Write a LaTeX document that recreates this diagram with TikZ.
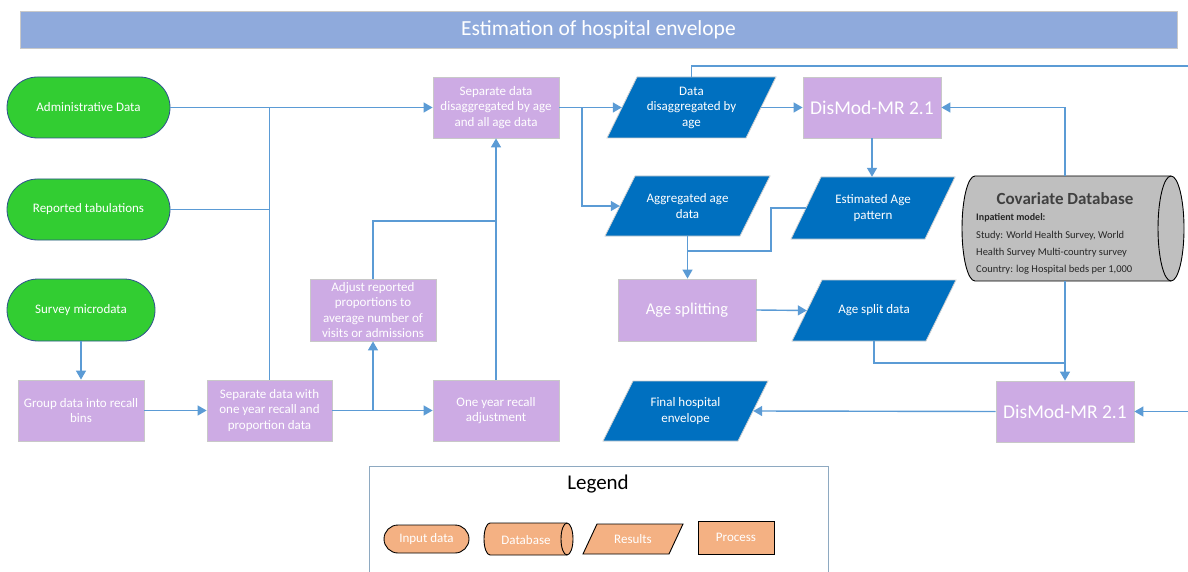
\documentclass[tikz,border=0pt]{standalone}
\usepackage{fontspec}
\setmainfont{Carlito}
\usetikzlibrary{shapes.geometric,shapes.misc,arrows.meta,calc}

\definecolor{titlefill}{HTML}{8FAADC}
\definecolor{titleedge}{HTML}{C9C9C9}
\definecolor{inputfill}{HTML}{32CD32}
\definecolor{inputedge}{HTML}{2F528F}
\definecolor{procfill}{HTML}{CDABE4}
\definecolor{procedge}{HTML}{C8C8C8}
\definecolor{resfill}{HTML}{0070C0}
\definecolor{resedge}{HTML}{D0D0D0}
\definecolor{dbfill}{HTML}{BFBFBF}
\definecolor{lineblue}{HTML}{5B9BD5}
\definecolor{legfill}{HTML}{F4B183}
\definecolor{legedge}{HTML}{8EA9C1}
\definecolor{dbtitle}{HTML}{404040}

\tikzset{
  flow/.style={draw=lineblue, line width=1.4pt},
  arr/.style={flow, -{Triangle[length=9pt,width=10pt]}},
  inputbox/.style={rounded rectangle, fill=inputfill, draw=inputedge, line width=0.8pt,
    text=white, align=center, inner sep=0pt},
  procbox/.style={rectangle, fill=procfill, draw=procedge, line width=0.8pt,
    text=white, align=center, inner sep=0pt},
  resultshape/.style={fill=resfill, draw=resedge, line width=0.8pt},
  legshape/.style={fill=legfill, draw=black, line width=0.9pt},
  paratext/.style={rectangle, text=white, align=center, inner sep=0pt},
  legitem/.style={fill=legfill, draw=black, line width=0.9pt, text=white,
    align=center, inner sep=0pt},
  dbline/.style={text=black!85, anchor=west, inner sep=0pt,
    font=\fontsize{10.5}{12}\selectfont},
}

% slanted data box: style, name, centre, width at mid-height, height, half slant, text
\newcommand\parabox[7]{%
  \path[#1, shift={(#3)}]
    (-#4/2-#6, #5/2) -- (#4/2-#6, #5/2) -- (#4/2+#6, -#5/2) -- (-#4/2+#6, -#5/2) -- cycle;
  \node[paratext, minimum width=#4, minimum height=#5] (#2) at (#3) {#7};
}

\begin{document}
\begin{tikzpicture}[x=1pt, y=-1pt, font=\fontsize{13}{15.5}\selectfont]
\useasboundingbox (0,0) rectangle (1188,572);
\clip (0,0) rectangle (1188,572);

% title bar
\node[rectangle, fill=titlefill, draw=titleedge, line width=0.8pt, minimum width=1157,
  minimum height=37, inner sep=0pt, text=white, font=\fontsize{21.5}{25}\selectfont]
  (title) at (598.5,29.5) {Estimation of hospital envelope};

% input data
\node[inputbox, minimum width=163, minimum height=61] (admin) at (88.5,107.5) {Administrative Data};
\node[inputbox, minimum width=163, minimum height=61] (reported) at (88.5,209.5) {Reported tabulations};
\node[inputbox, minimum width=148, minimum height=62] (survey) at (81,310) {Survey microdata};

% processing steps
\node[procbox, minimum width=126, minimum height=61] (group) at (81,410.5) {Group data into recall\\bins};
\node[procbox, minimum width=125, minimum height=61] (sep1yr) at (269.5,410.5) {Separate data with\\one year recall and\\proportion data};
\node[procbox, minimum width=126, minimum height=62] (adjust) at (373,310) {Adjust reported\\proportions to\\average number of\\visits or admissions};
\node[procbox, minimum width=126, minimum height=61] (oneyr) at (496,410.5) {One year recall\\adjustment};
\node[procbox, minimum width=126, minimum height=61] (sepdis) at (496,107.5) {Separate data\\disaggregated by age\\and all age data};
\node[procbox, minimum width=138, minimum height=62, font=\fontsize{16.5}{19}\selectfont] (agesplit) at (687,310) {Age splitting};
\node[procbox, minimum width=138, minimum height=61, font=\fontsize{19.5}{22}\selectfont] (dismod1) at (872,107.5) {DisMod-MR 2.1};
\node[procbox, minimum width=138, minimum height=61, font=\fontsize{19.5}{22}\selectfont] (dismod2) at (1065,411.5) {DisMod-MR 2.1};

% results
\parabox{resultshape}{datadis}{691.5,107.5}{139}{61}{15}{Data\\disaggregated by\\age}
\parabox{resultshape}{aggr}{687.5,206}{135}{60}{15}{Aggregated age\\data}
\parabox{resultshape}{estage}{873,208}{134}{62}{15}{Estimated Age\\pattern}
\parabox{resultshape}{agesplitdata}{874,310.5}{134}{61}{15}{Age split data}
\parabox{resultshape}{final}{685.5,411}{135}{60}{15}{Final hospital\\envelope}

% covariate database (horizontal cylinder)
\node[rectangle, minimum width=223, minimum height=105, inner sep=0pt] (covdb) at (1073.5,228.5) {};
\path[fill=dbfill, draw=black, line width=0.9pt]
  (975,176) -- (1171,176) arc[start angle=-90, end angle=90, x radius=13, y radius=52.5]
  -- (975,281) arc[start angle=90, end angle=270, x radius=13, y radius=52.5] -- cycle;
\draw[black, line width=0.9pt] (1171,176) arc[start angle=-90, end angle=-270, x radius=13, y radius=52.5];
\node[text=dbtitle, font=\bfseries\fontsize{17}{20}\selectfont, inner sep=0pt] (dbname) at (1065,199) {Covariate Database};
\node[dbline, font=\bfseries\fontsize{10}{12}\selectfont] (dbmodel) at (976,218) {Inpatient model:};
\node[dbline] (dbstudy) at (976,236) {Study: World Health Survey, World};
\node[dbline] (dbstudy2) at (976,253) {Health Survey Multi-country survey};
\node[dbline] (dbcountry) at (976,269.5) {Country: log Hospital beds per 1,000};

% connectors
\draw[arr] (admin.east) -- (sepdis.west);
\draw[flow] (reported.east) -- (reported.east -| sep1yr.north);
\draw[flow] (sep1yr.north) -- (sep1yr.north |- admin.east);
\draw[arr] (survey.south) -- (group.north);
\draw[arr] (group.east) -- (sep1yr.west);
\draw[arr] (sep1yr.east) -- (oneyr.west);
\draw[arr] (adjust.south |- sep1yr.east) -- (adjust.south);
\coordinate (adjtop) at (373,221);
\draw[flow] (adjust.north) -- (adjtop) -- (adjtop -| oneyr.north);
\draw[arr] (oneyr.north) -- (sepdis.south);
\draw[arr] (sepdis.east) -- (datadis.west);
\coordinate (aggsplit) at (582,107.5);
\draw[arr] (aggsplit) |- (aggr.west);
\draw[arr] (datadis.east) -- (dismod1.west);
\coordinate (topright) at (1188,66);
\draw[flow] (datadis.north) |- (topright);
\draw[arr] (dismod1.south) -- (dismod1.south |- estage.north);
\draw[arr] (dismod2.north |- covdb.north) |- (dismod1.east);
\draw[arr] (aggr.south) -- (aggr.south |- agesplit.north);
\coordinate (patbend) at (771,251);
\draw[flow] (estage.west) -- (estage.west -| patbend) -- (patbend) -- (patbend -| aggr.south);
\draw[arr] (agesplit.east) -- (agesplitdata.west);
\coordinate (splitbend) at (873,363);
\draw[flow] (agesplitdata.south) -- (agesplitdata.south |- splitbend) -- (splitbend -| dismod2.north);
\draw[arr] (dismod2.north |- covdb.south) -- (dismod2.north);
\coordinate (rightin) at (1188,411.5);
\draw[arr] (rightin) -- (dismod2.east);
\draw[arr] (dismod2.west) -- (final.east);

% legend
\node[rectangle, draw=legedge, line width=1pt, minimum width=459, minimum height=150,
  anchor=north west, inner sep=0pt] (legendframe) at (369,466) {};
\node[font=\fontsize{21}{25}\selectfont, inner sep=0pt] (legendtitle) at (598,484) {Legend};
\node[legitem, rounded rectangle, minimum width=85, minimum height=28] (leginput) at (426.5,539) {Input data};
\node[rectangle, minimum width=89, minimum height=32, inner sep=0pt] (legdb) at (528.5,539) {};
\path[legshape]
  (490,523) -- (567,523) arc[start angle=-90, end angle=90, x radius=6, y radius=16]
  -- (490,555) arc[start angle=90, end angle=270, x radius=6, y radius=16] -- cycle;
\draw[black, line width=0.9pt] (567,523) arc[start angle=-90, end angle=-270, x radius=6, y radius=16];
\node[text=white, inner sep=0pt] (legdbtext) at (526,540) {Database};
\parabox{legshape}{legres}{633,539}{86}{30}{7}{Results}
\node[legitem, rectangle, minimum width=76, minimum height=33] (legproc) at (736,537.5) {Process};
\end{tikzpicture}
\end{document}
